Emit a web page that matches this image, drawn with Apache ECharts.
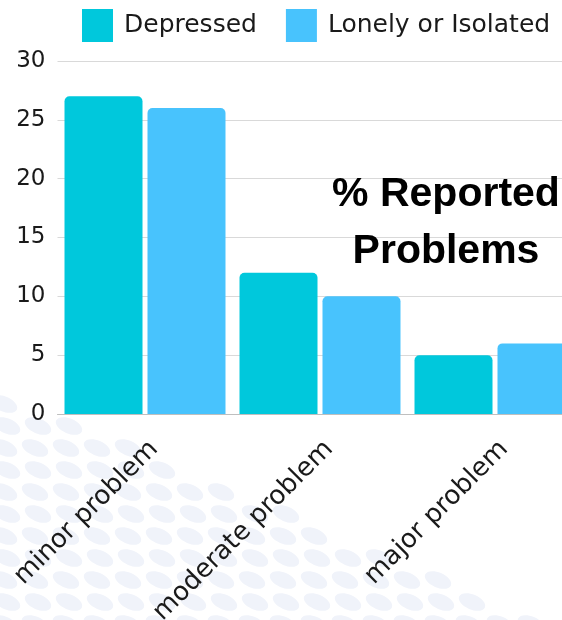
<!DOCTYPE html>
<html lang="en">
<head>
    <meta charset="UTF-8">
    <title>% Reported Problems</title>
    <script src="https://cdn.jsdelivr.net/npm/echarts@6/dist/echarts.min.js"></script>
    <style>
        html, body { margin: 0; padding: 0; background: #fff; }
    </style>
</head>
<body>
    <div id="chart" style="width: 562px; height: 620px;"></div>
    <script>
        // chart data
        var categories = ['minor problem', 'moderate problem', 'major problem'];
        var depressed = [27, 12, 5];
        var lonely = [26, 10, 6];
        var yTicks = [0, 5, 10, 15, 20, 25, 30];

        var chart = echarts.init(document.getElementById('chart'));

        // decorative dotted background in the lower left
        var dots = [];
        for (var row = 0; row < 12; row++) {
            for (var col = 0; col < 20; col++) {
                var cx = col * 31 + 4 + (row % 2) * 3;
                var cy = 404 + row * 22;
                var edge = cx < 215 ? 398 + 0.39 * cx : 482 + 0.43 * (cx - 215);
                if (cy < edge) continue;
                dots.push({
                    type: 'ellipse',
                    x: cx, y: cy,
                    rotation: -0.4,
                    shape: { cx: 0, cy: 0, rx: 14, ry: 7.5 },
                    style: { fill: '#f0f3fa' },
                    silent: true,
                    z: -10
                });
            }
        }

        var option = {
            backgroundColor: '#fff',
            color: ['#00c8dc', '#48c3fd'],
            textStyle: { fontFamily: 'DejaVu Sans' },
            legend: {
                left: 77,
                top: 4,
                itemWidth: 31,
                itemHeight: 33,
                itemGap: 29,
                icon: 'rect',
                textStyle: { fontSize: 25, color: '#1a1a1a', padding: [0, 0, 0, 6] },
                data: ['Depressed', 'Lonely or Isolated']
            },
            grid: {
                left: 57.5, width: 525, top: 61, height: 353,
                containLabel: false, outerBoundsMode: 'none'
            },
            xAxis: {
                type: 'category',
                data: categories,
                axisTick: { show: false },
                axisLine: { lineStyle: { color: '#bfbfbf', width: 1 } },
                axisLabel: {
                    rotate: 45, margin: 22, fontSize: 26, color: '#1a1a1a',
                    interval: 0, verticalAlign: 'top'
                }
            },
            yAxis: {
                type: 'value',
                min: yTicks[0],
                max: yTicks[yTicks.length - 1],
                interval: 5,
                axisLine: { show: false },
                axisTick: { show: false },
                axisLabel: { fontSize: 23, color: '#1a1a1a', margin: 12 },
                splitLine: { lineStyle: { color: '#d9d9d9', width: 1 } }
            },
            series: [
                {
                    name: 'Depressed', type: 'bar', data: depressed,
                    barWidth: 78, barGap: '6.4%',
                    itemStyle: { borderRadius: [5, 5, 0, 0] }
                },
                {
                    name: 'Lonely or Isolated', type: 'bar', data: lonely,
                    barWidth: 78,
                    itemStyle: { borderRadius: [5, 5, 0, 0] }
                }
            ],
            graphic: dots.concat([{
                type: 'text',
                x: 446, y: 223,
                z: 100,
                style: {
                    text: '% Reported\nProblems',
                    font: 'bold 41px "Liberation Sans", Arial, sans-serif',
                    fill: '#000',
                    align: 'center',
                    verticalAlign: 'middle',
                    lineHeight: 57
                }
            }])
        };

        chart.setOption(option);
    </script>
</body>
</html>
